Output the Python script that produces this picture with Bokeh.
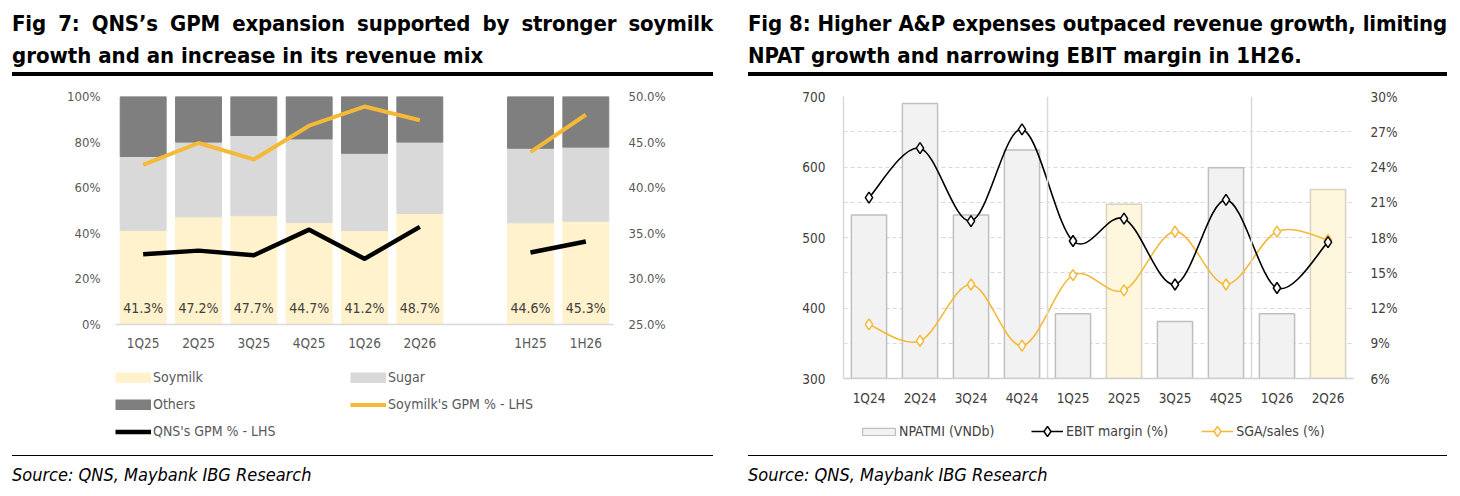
from bokeh.plotting import figure
from bokeh.models import (Range1d, FactorRange, LinearAxis, FixedTicker, Legend, LegendItem,
                          Div, Span, ColumnDataSource, PrintfTickFormatter)
from bokeh.layouts import row, column
from bokeh.embed import file_html
from bokeh.resources import INLINE
from bokeh.core.properties import value

# ---------------- Fig 7 data ----------------
quarters7 = ["1Q25", "2Q25", "3Q25", "4Q25", "1Q26", "2Q26"]
halves7 = ["1H25", "1H26"]
soymilk_q = [41.3, 47.2, 47.7, 44.7, 41.2, 48.7]
sugar_q = [32.4, 32.8, 35.2, 36.7, 33.9, 31.3]
others_q = [26.3, 20.0, 17.1, 18.6, 24.9, 20.0]
soymilk_h = [44.6, 45.3]
sugar_h = [32.7, 32.5]
others_h = [22.7, 22.2]
soy_gpm_q = [42.5, 44.9, 43.1, 46.8, 48.9, 47.4]
soy_gpm_h = [43.9, 48.0]
qns_gpm_q = [32.7, 33.1, 32.6, 35.4, 32.2, 35.7]
qns_gpm_h = [32.9, 34.1]
left_ticks7 = [0, 20, 40, 60, 80, 100]
right_ticks7 = [25, 30, 35, 40, 45, 50]

# ---------------- Fig 8 data ----------------
quarters8 = ["1Q24", "2Q24", "3Q24", "4Q24", "1Q25", "2Q25", "3Q25", "4Q25", "1Q26", "2Q26"]
npatmi = [532, 690, 532, 624, 392, 547, 381, 599, 392, 568]
ebit_margin = [21.4, 25.6, 19.4, 27.2, 17.7, 19.6, 14.0, 21.2, 13.7, 17.6]
sga_sales = [10.6, 9.2, 14.0, 8.8, 14.8, 13.5, 18.5, 14.0, 18.5, 17.8]
highlight8 = ["2Q25", "2Q26"]
left_ticks8 = [300, 400, 500, 600, 700]
grid_ticks8 = [350, 400, 450, 500, 550, 600, 650, 700]
right_ticks8 = [6, 9, 12, 15, 18, 21, 24, 27, 30]

FONT = "DejaVu Sans Condensed"
CSS_FONT = "'DejaVu Sans Condensed','DejaVu Sans',sans-serif"

SOY = "#FFF2CC"
SUGAR = "#D9D9D9"
OTHERS = "#7F7F7F"
ORANGE = "#F4B936"
BAR_FILL, BAR_LINE = "#F2F2F2", "#BFBFBF"
HI_FILL, HI_LINE = "#FFF6DE", "#D8D2C0"
NAN = float("nan")   # legend proxies carry no visible data


def style_axis(ax, color, size="13px", standoff=14):
    ax.axis_line_color = None
    ax.major_tick_line_color = None
    ax.minor_tick_line_color = None
    ax.major_tick_out = 0
    ax.major_tick_in = 0
    ax.minor_tick_out = 0
    ax.minor_tick_in = 0
    ax.major_label_text_font = FONT
    ax.major_label_text_font_size = size
    ax.major_label_text_color = color
    ax.major_label_standoff = standoff


def legend_fig(width, height, left, right, top):
    f = figure(width=width, height=height, x_range=Range1d(0, 1), y_range=Range1d(0, 1),
               output_backend="svg", toolbar_location=None, min_border_left=left,
               min_border_right=right, min_border_top=top, min_border_bottom=0)
    f.axis.visible = False
    f.grid.visible = False
    f.outline_line_color = None
    return f


LEG_STYLE = dict(border_line_color=None, background_fill_alpha=0, label_text_font=FONT,
                 label_text_font_size="14px", padding=0, margin=0, label_height=20)

# ================= Fig 7 =================
GAP = " "
factors7 = quarters7 + [GAP] + halves7
p1 = figure(width=705, height=282, x_range=FactorRange(*factors7), y_range=Range1d(0, 100),
            output_backend="svg", toolbar_location=None,
            min_border_left=100, min_border_right=100, min_border_top=18, min_border_bottom=36)
p1.outline_line_color = None
p1.xgrid.visible = False
p1.ygrid.visible = False
p1.extra_y_ranges = {"r": Range1d(25, 50)}

cats = quarters7 + halves7
soy_all = soymilk_q + soymilk_h
src7 = ColumnDataSource(dict(cat=cats, soy=soy_all, sugar=sugar_q + sugar_h,
                             others=others_q + others_h,
                             lbl=[f"{v:.1f}%" for v in soy_all]))
p1.vbar_stack(["soy", "sugar", "others"], x="cat", width=0.83,
              color=[SOY, SUGAR, OTHERS], source=src7)
p1.text(x="cat", y=0, text="lbl", source=src7, y_offset=-17, text_align="center",
        text_baseline="middle", text_font=value(FONT), text_font_size="14px", text_color="#404040")

p1.line(quarters7, soy_gpm_q, y_range_name="r", line_width=4, color=ORANGE, line_join="round")
p1.line(halves7, soy_gpm_h, y_range_name="r", line_width=4, color=ORANGE, line_join="round")
p1.line(quarters7, qns_gpm_q, y_range_name="r", line_width=4.5, color="black", line_join="round")
p1.line(halves7, qns_gpm_h, y_range_name="r", line_width=4.5, color="black", line_join="round")

p1.yaxis.ticker = FixedTicker(ticks=left_ticks7)
p1.yaxis.formatter = PrintfTickFormatter(format="%d%%")
style_axis(p1.yaxis[0], "#595959", standoff=15)
rax1 = LinearAxis(y_range_name="r", ticker=FixedTicker(ticks=right_ticks7),
                  formatter=PrintfTickFormatter(format="%.1f%%"))
style_axis(rax1, "#595959", standoff=15)
p1.add_layout(rax1, "right")
style_axis(p1.xaxis[0], "#595959", size="13.5px", standoff=10)
p1.xaxis.axis_line_color = "#D9D9D9"
p1.xaxis.axis_line_width = 1.5

# legend of Fig 7 (separate strip); swatches drawn as thick line proxies
l1 = legend_fig(705, 88, 107, 100, 7)
r_soy = l1.line([NAN, NAN], [NAN, NAN], line_width=11, color=SOY)
r_sug = l1.line([NAN, NAN], [NAN, NAN], line_width=11, color=SUGAR)
r_oth = l1.line([NAN, NAN], [NAN, NAN], line_width=11, color=OTHERS)
r_og = l1.line([NAN, NAN], [NAN, NAN], line_width=4, color=ORANGE)
r_bk = l1.line([NAN, NAN], [NAN, NAN], line_width=4.5, color="black")
leg1 = Legend(items=[
    LegendItem(label="Soymilk", renderers=[r_soy]),
    LegendItem(label="Sugar", renderers=[r_sug]),
    LegendItem(label="Others", renderers=[r_oth]),
    LegendItem(label="Soymilk's GPM % - LHS", renderers=[r_og]),
    LegendItem(label="QNS's GPM % - LHS", renderers=[r_bk]),
], ncols=2, orientation="horizontal", location="top_left", glyph_width=36, glyph_height=11,
    label_standoff=2, label_width=190, spacing=7, label_text_color="#595959", **LEG_STYLE)
l1.add_layout(leg1, "center")

# ================= Fig 8 =================
n8 = len(quarters8)
x8 = [i + 0.5 for i in range(n8)]
p2 = figure(width=703, height=337, x_range=Range1d(0, n8), y_range=Range1d(300, 700),
            output_backend="svg", toolbar_location=None,
            min_border_left=99, min_border_right=94, min_border_top=18, min_border_bottom=37)
p2.outline_line_color = None
p2.xgrid.visible = False
p2.ygrid.ticker = FixedTicker(ticks=grid_ticks8)
p2.ygrid.grid_line_color = "#D9D9D9"
p2.ygrid.grid_line_dash = "4 3"
p2.ygrid.grid_line_width = 1
p2.extra_y_ranges = {"r": Range1d(6, 30)}

fills = [HI_FILL if q in highlight8 else BAR_FILL for q in quarters8]
lines = [HI_LINE if q in highlight8 else BAR_LINE for q in quarters8]
src8 = ColumnDataSource(dict(x=x8, npat=npatmi, fill=fills, line=lines))
p2.vbar(x="x", top="npat", bottom=300, width=0.69, fill_color="fill", line_color="line",
        line_width=1.5, source=src8)

for i in range(1, n8):
    if quarters8[i][2:] != quarters8[i - 1][2:]:
        p2.add_layout(Span(location=i, dimension="height", line_color="#D9D9D9", line_width=1.5))


def smooth(xs, ys):
    n = len(xs)
    out = {k: [] for k in ("x0", "y0", "x1", "y1", "cx0", "cy0", "cx1", "cy1")}
    for i in range(n - 1):
        a = max(i - 1, 0)
        b = min(i + 2, n - 1)
        out["x0"].append(xs[i]); out["y0"].append(ys[i])
        out["x1"].append(xs[i + 1]); out["y1"].append(ys[i + 1])
        out["cx0"].append(xs[i] + (xs[i + 1] - xs[a]) / 6)
        out["cy0"].append(ys[i] + (ys[i + 1] - ys[a]) / 6)
        out["cx1"].append(xs[i + 1] - (xs[b] - xs[i]) / 6)
        out["cy1"].append(ys[i + 1] - (ys[b] - ys[i]) / 6)
    return out


p2.bezier(source=ColumnDataSource(smooth(x8, sga_sales)), x0="x0", y0="y0", x1="x1", y1="y1",
          cx0="cx0", cy0="cy0", cx1="cx1", cy1="cy1", y_range_name="r",
          line_color=ORANGE, line_width=1.6)
p2.bezier(source=ColumnDataSource(smooth(x8, ebit_margin)), x0="x0", y0="y0", x1="x1", y1="y1",
          cx0="cx0", cy0="cy0", cx1="cx1", cy1="cy1", y_range_name="r",
          line_color="black", line_width=1.6)
p2.scatter(x8, sga_sales, marker="diamond", size=11, fill_color="white",
           line_color=ORANGE, line_width=1.5, y_range_name="r")
p2.scatter(x8, ebit_margin, marker="diamond", size=11, fill_color="white",
           line_color="black", line_width=1.5, y_range_name="r")

p2.xaxis.ticker = FixedTicker(ticks=x8)
p2.xaxis.major_label_overrides = {x: q for x, q in zip(x8, quarters8)}
style_axis(p2.xaxis[0], "#404040", size="13.5px", standoff=11)
p2.xaxis.axis_line_color = "#CFCFCF"
p2.xaxis.axis_line_width = 1.5
p2.yaxis.ticker = FixedTicker(ticks=left_ticks8)
style_axis(p2.yaxis[0], "#404040", size="13.5px", standoff=18)
p2.yaxis.axis_line_color = "#D9D9D9"
p2.yaxis.axis_line_width = 1.5
rax2 = LinearAxis(y_range_name="r", ticker=FixedTicker(ticks=right_ticks8),
                  formatter=PrintfTickFormatter(format="%d%%"))
style_axis(rax2, "#404040", size="13.5px", standoff=17)
p2.add_layout(rax2, "right")

# legend of Fig 8 (separate strip)
l2 = legend_fig(703, 33, 99, 94, 0)
r_np = l2.vbar(x=[NAN], top=[NAN], width=1, fill_color=BAR_FILL, line_color=BAR_LINE,
               line_width=1.2)
r_el = l2.line([NAN, NAN], [NAN, NAN], line_color="black", line_width=1.6)
r_em = l2.scatter([NAN], [NAN], marker="diamond", size=11, fill_color="white", line_color="black",
                  line_width=1.5)
r_sl = l2.line([NAN, NAN], [NAN, NAN], line_color=ORANGE, line_width=1.6)
r_sm = l2.scatter([NAN], [NAN], marker="diamond", size=11, fill_color="white", line_color=ORANGE,
                  line_width=1.5)
leg2a = Legend(items=[LegendItem(label="NPATMI (VNDb)", renderers=[r_np])],
               orientation="horizontal", location=(15, 7), glyph_width=41, glyph_height=9,
               label_standoff=0, label_text_color="#404040", **LEG_STYLE)
leg2b = Legend(items=[
    LegendItem(label="EBIT margin (%)", renderers=[r_el, r_em]),
    LegendItem(label="SGA/sales (%)", renderers=[r_sl, r_sm]),
], orientation="horizontal", location=(188, 4), glyph_width=32, glyph_height=26,
    label_standoff=3, spacing=33, label_text_color="#404040", **LEG_STYLE)
l2.add_layout(leg2a, "center")
l2.add_layout(leg2b, "center")


# ================= titles & sources =================
def title_div(line1, line2, width):
    html = (f'<div style="margin-left:4px;width:{width - 4}px;font-family:{CSS_FONT};'
            f'font-weight:bold;font-size:22px;line-height:32px;color:#000;">'
            f'<div style="text-align:justify;text-align-last:justify;white-space:nowrap;'
            f'letter-spacing:-0.15px;">{line1}</div>'
            f'<div style="white-space:nowrap;">{line2}</div>'
            f'<div style="border-top:4px solid #000;"></div></div>')
    return Div(text=html, width=width, height=70, margin=(0, 0, 0, 0))


def source_div(text, width):
    html = (f'<div style="margin-left:4px;width:{width - 4}px;font-family:{CSS_FONT};color:#000;">'
            f'<div style="margin-top:7px;border-top:1.5px solid #000;"></div>'
            f'<div style="margin-top:8px;font-style:italic;font-size:18px;line-height:22px;">{text}</div></div>')
    return Div(text=html, width=width, height=40, margin=(0, 0, 0, 0))


t1 = title_div("Fig 7: QNS’s GPM expansion supported by stronger soymilk",
               "growth and an increase in its revenue mix", 705)
t2 = title_div("Fig 8: Higher A&amp;P expenses outpaced revenue growth, limiting",
               "NPAT growth and narrowing EBIT margin in 1H26.", 703)
s1 = source_div("Source: QNS, Maybank IBG Research", 705)
s2 = source_div("Source: QNS, Maybank IBG Research", 703)

c1 = column(t1, p1, l1, s1)
c2 = column(t2, p2, l2, s2)
layout = row(c1, c2, spacing=31, margin=(8, 0, 0, 8))

open("out.html", "w").write(file_html(layout, INLINE))
